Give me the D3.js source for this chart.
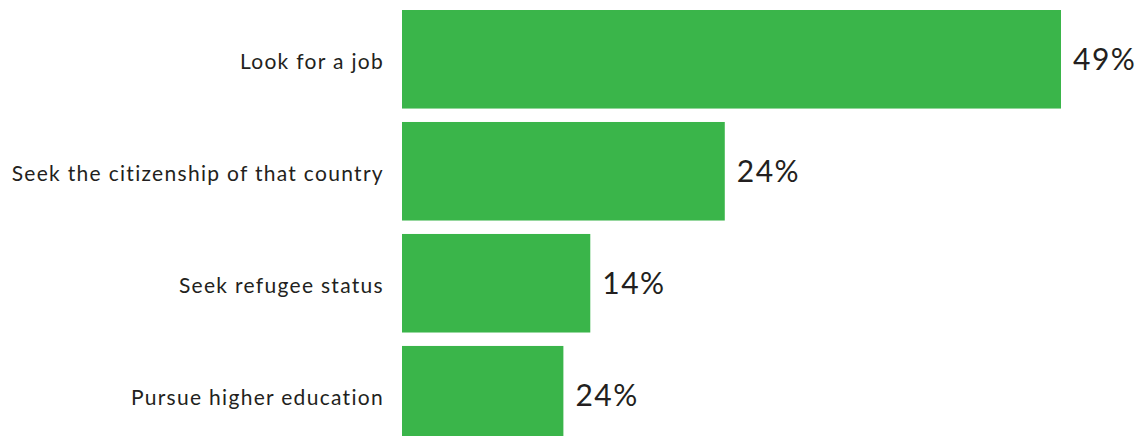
<!DOCTYPE html>
<html>
<head>
<meta charset="utf-8">
<script src="https://cdn.jsdelivr.net/npm/d3@7"></script>
<style>
  body { margin: 0; background: #fff; }
  svg { display: block; }
</style>
</head>
<body>
<div id="chart"></div>
<script>
// data
var categories = ["Look for a job", "Seek the citizenship of that country", "Seek refugee status", "Pursue higher education"];
var values = [49, 24, 14, 12];              // bar lengths as drawn
var valueLabels = ["49%", "24%", "14%", "24%"]; // labels as printed

var width = 1148, height = 436;
var margin = { top: 10, left: 402, right: 87 };

var svg = d3.select("#chart")
    .append("svg")
    .attr("width", width)
    .attr("height", height);

// x scale: 0..49 maps to 402..1061
var x = d3.scaleLinear()
    .domain([0, 49])
    .range([margin.left, width - margin.right]);

// y scale: bands of ~98px every 112px
var y = d3.scaleBand()
    .domain(categories)
    .range([margin.top, margin.top + 434.5])
    .paddingInner(0.12)
    .paddingOuter(0);

var rows = categories.map(function (c, i) {
    return { cat: c, value: values[i], label: valueLabels[i] };
});

// bars
svg.selectAll(".bar")
    .data(rows)
    .enter().append("rect")
    .attr("class", "bar")
    .attr("x", x(0))
    .attr("y", function (d) { return y(d.cat); })
    .attr("width", function (d) { return x(d.value) - x(0); })
    .attr("height", y.bandwidth())
    .attr("fill", "#3ab54a");

// category labels
svg.selectAll(".cat")
    .data(rows)
    .enter().append("text")
    .attr("class", "cat")
    .attr("x", x(0) - 18)
    .attr("y", function (d) { return y(d.cat) + y.bandwidth() / 2 + 2; })
    .attr("dy", "0.35em")
    .attr("text-anchor", "end")
    .attr("font-family", "Lato, sans-serif")
    .attr("font-size", "21px")
    .attr("letter-spacing", "1.3px")
    .attr("fill", "#231f20")
    .text(function (d) { return d.cat; });

// value labels
svg.selectAll(".val")
    .data(rows)
    .enter().append("text")
    .attr("class", "val")
    .attr("x", function (d) { return x(d.value) + 12; })
    .attr("y", function (d) { return y(d.cat) + y.bandwidth() / 2; })
    .attr("dy", "0.35em")
    .attr("font-family", "Lato, sans-serif")
    .attr("font-size", "30px")
    .attr("letter-spacing", "1.5px")
    .attr("fill", "#231f20")
    .text(function (d) { return d.label; });
</script>
</body>
</html>
